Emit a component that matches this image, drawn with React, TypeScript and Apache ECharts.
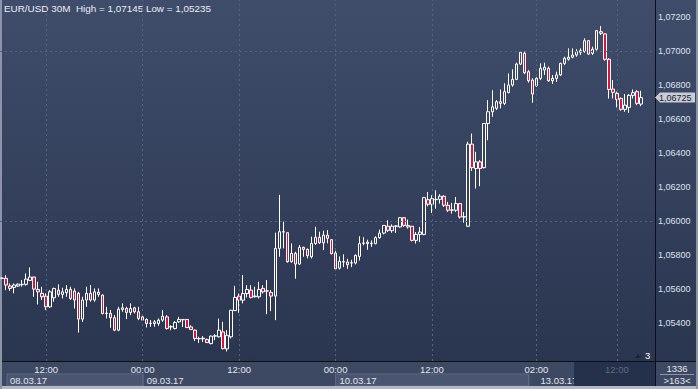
import React, { useEffect, useRef } from 'react';
import * as echarts from 'echarts';

// EUR/USD 30M candles (open, close, low, high)
const OPEN = [
  1.05664, 1.05664, 1.05619, 1.05611, 1.05619, 1.05627, 1.05629, 1.05652, 1.05672, 1.05599,
  1.05576, 1.05560, 1.05497, 1.05550, 1.05595, 1.05570, 1.05580, 1.05599, 1.05589, 1.05576,
  1.05425, 1.05537, 1.05576, 1.05537, 1.05583, 1.05566, 1.05458, 1.05458, 1.05433, 1.05360,
  1.05482, 1.05487, 1.05464, 1.05491, 1.05468, 1.05438, 1.05423, 1.05399, 1.05399, 1.05399,
  1.05419, 1.05438, 1.05379, 1.05370, 1.05409, 1.05423, 1.05423, 1.05379, 1.05360, 1.05311,
  1.05309, 1.05305, 1.05281, 1.05325, 1.05321, 1.05350, 1.05250, 1.05321, 1.05475, 1.05560,
  1.05536, 1.05575, 1.05595, 1.05556, 1.05556, 1.05605, 1.05591, 1.05581, 1.05560, 1.05840,
  1.05938, 1.05932, 1.05762, 1.05811, 1.05748, 1.05846, 1.05834, 1.05791, 1.05869, 1.05905,
  1.05873, 1.05918, 1.05891, 1.05813, 1.05724, 1.05760, 1.05760, 1.05754, 1.05754, 1.05793,
  1.05870, 1.05877, 1.05868, 1.05868, 1.05903, 1.05930, 1.05970, 1.05944, 1.05970, 1.05966,
  1.06020, 1.05966, 1.05970, 1.05887, 1.05922, 1.05922, 1.06126, 1.06099, 1.06126, 1.06128,
  1.06146, 1.06093, 1.06064, 1.06064, 1.06103, 1.06024, 1.05970, 1.06452, 1.06309, 1.06348,
  1.06314, 1.06573, 1.06642, 1.06662, 1.06691, 1.06691, 1.06755, 1.06799, 1.06832, 1.06922,
  1.06985, 1.06877, 1.06828, 1.06795, 1.06838, 1.06887, 1.06897, 1.06824, 1.06838, 1.06858,
  1.06926, 1.06950, 1.06962, 1.06975, 1.06991, 1.06995, 1.07059, 1.06985, 1.07009, 1.07112,
  1.07099, 1.06950, 1.06775, 1.06750, 1.06720, 1.06656, 1.06668, 1.06738, 1.06760, 1.06687,
];
const CLOSE = [
  1.05666, 1.05625, 1.05605, 1.05625, 1.05630, 1.05629, 1.05660, 1.05672, 1.05601, 1.05585,
  1.05556, 1.05497, 1.05585, 1.05605, 1.05570, 1.05585, 1.05599, 1.05546, 1.05537, 1.05425,
  1.05537, 1.05576, 1.05537, 1.05585, 1.05570, 1.05458, 1.05460, 1.05433, 1.05360, 1.05483,
  1.05491, 1.05464, 1.05487, 1.05468, 1.05429, 1.05419, 1.05399, 1.05401, 1.05409, 1.05419,
  1.05442, 1.05370, 1.05381, 1.05405, 1.05423, 1.05421, 1.05375, 1.05364, 1.05311, 1.05309,
  1.05313, 1.05287, 1.05325, 1.05327, 1.05360, 1.05252, 1.05330, 1.05477, 1.05552, 1.05536,
  1.05575, 1.05599, 1.05552, 1.05560, 1.05599, 1.05585, 1.05589, 1.05560, 1.05840, 1.05938,
  1.05936, 1.05762, 1.05811, 1.05748, 1.05846, 1.05834, 1.05797, 1.05869, 1.05905, 1.05873,
  1.05918, 1.05899, 1.05809, 1.05720, 1.05764, 1.05762, 1.05744, 1.05756, 1.05799, 1.05868,
  1.05872, 1.05868, 1.05870, 1.05903, 1.05930, 1.05975, 1.05946, 1.05970, 1.05972, 1.06020,
  1.05975, 1.05975, 1.05887, 1.05922, 1.05936, 1.06138, 1.06099, 1.06132, 1.06128, 1.06146,
  1.06093, 1.06064, 1.06066, 1.06103, 1.06024, 1.06026, 1.06452, 1.06314, 1.06348, 1.06309,
  1.06573, 1.06642, 1.06671, 1.06701, 1.06701, 1.06760, 1.06799, 1.06832, 1.06922, 1.06991,
  1.06871, 1.06824, 1.06746, 1.06838, 1.06897, 1.06903, 1.06824, 1.06838, 1.06858, 1.06926,
  1.06956, 1.06962, 1.06975, 1.06995, 1.07001, 1.07059, 1.06981, 1.07009, 1.07118, 1.07103,
  1.06950, 1.06773, 1.06756, 1.06714, 1.06656, 1.06681, 1.06738, 1.06754, 1.06691, 1.06725,
];
const LOW = [
  1.05660, 1.05595, 1.05591, 1.05576, 1.05615, 1.05615, 1.05621, 1.05648, 1.05556, 1.05511,
  1.05537, 1.05478, 1.05491, 1.05527, 1.05556, 1.05546, 1.05556, 1.05537, 1.05487, 1.05346,
  1.05409, 1.05497, 1.05527, 1.05527, 1.05556, 1.05452, 1.05429, 1.05374, 1.05354, 1.05354,
  1.05468, 1.05425, 1.05448, 1.05458, 1.05419, 1.05415, 1.05376, 1.05380, 1.05380, 1.05386,
  1.05409, 1.05364, 1.05360, 1.05364, 1.05403, 1.05379, 1.05375, 1.05360, 1.05297, 1.05285,
  1.05291, 1.05285, 1.05277, 1.05301, 1.05317, 1.05246, 1.05235, 1.05311, 1.05473, 1.05462,
  1.05517, 1.05552, 1.05546, 1.05552, 1.05546, 1.05575, 1.05454, 1.05472, 1.05419, 1.05791,
  1.05840, 1.05756, 1.05756, 1.05662, 1.05742, 1.05791, 1.05781, 1.05781, 1.05860, 1.05866,
  1.05830, 1.05869, 1.05805, 1.05714, 1.05716, 1.05730, 1.05720, 1.05730, 1.05746, 1.05769,
  1.05858, 1.05832, 1.05848, 1.05864, 1.05897, 1.05922, 1.05936, 1.05932, 1.05930, 1.05962,
  1.05966, 1.05956, 1.05881, 1.05868, 1.05877, 1.05917, 1.06087, 1.06048, 1.06073, 1.06103,
  1.06083, 1.06054, 1.06044, 1.06054, 1.06015, 1.05991, 1.05966, 1.06295, 1.06191, 1.06205,
  1.06309, 1.06475, 1.06612, 1.06652, 1.06662, 1.06681, 1.06750, 1.06789, 1.06828, 1.06916,
  1.06863, 1.06813, 1.06695, 1.06789, 1.06828, 1.06858, 1.06818, 1.06805, 1.06818, 1.06852,
  1.06916, 1.06942, 1.06956, 1.06965, 1.06975, 1.06989, 1.06975, 1.06975, 1.07001, 1.07093,
  1.06942, 1.06720, 1.06720, 1.06667, 1.06648, 1.06642, 1.06636, 1.06720, 1.06681, 1.06675,
];
const HIGH = [
  1.05668, 1.05683, 1.05634, 1.05634, 1.05634, 1.05654, 1.05693, 1.05728, 1.05674, 1.05644,
  1.05615, 1.05576, 1.05595, 1.05609, 1.05629, 1.05609, 1.05625, 1.05615, 1.05605, 1.05585,
  1.05556, 1.05615, 1.05625, 1.05605, 1.05605, 1.05570, 1.05497, 1.05478, 1.05448, 1.05497,
  1.05517, 1.05497, 1.05517, 1.05497, 1.05497, 1.05448, 1.05429, 1.05419, 1.05419, 1.05429,
  1.05478, 1.05448, 1.05389, 1.05413, 1.05438, 1.05425, 1.05425, 1.05389, 1.05364, 1.05321,
  1.05325, 1.05311, 1.05329, 1.05336, 1.05428, 1.05409, 1.05360, 1.05477, 1.05620, 1.05575,
  1.05683, 1.05624, 1.05624, 1.05615, 1.05644, 1.05624, 1.05654, 1.05595, 1.05932, 1.06154,
  1.05997, 1.05932, 1.05869, 1.05820, 1.05860, 1.05850, 1.05840, 1.05909, 1.05967, 1.05938,
  1.05944, 1.05948, 1.05895, 1.05838, 1.05793, 1.05805, 1.05779, 1.05773, 1.05805, 1.05911,
  1.05907, 1.05891, 1.05887, 1.05911, 1.05950, 1.05977, 1.06005, 1.05981, 1.05975, 1.06024,
  1.06024, 1.06009, 1.05972, 1.05936, 1.05966, 1.06142, 1.06171, 1.06152, 1.06181, 1.06158,
  1.06152, 1.06113, 1.06107, 1.06142, 1.06107, 1.06054, 1.06466, 1.06514, 1.06407, 1.06358,
  1.06573, 1.06710, 1.06769, 1.06711, 1.06773, 1.06809, 1.06867, 1.06891, 1.06930, 1.06999,
  1.06995, 1.06887, 1.06838, 1.06844, 1.06926, 1.06930, 1.06907, 1.06858, 1.06877, 1.06930,
  1.06965, 1.07014, 1.07014, 1.07009, 1.07014, 1.07073, 1.07063, 1.07024, 1.07122, 1.07145,
  1.07103, 1.06956, 1.06828, 1.06760, 1.06726, 1.06746, 1.06746, 1.06773, 1.06769, 1.06765,
];

const SLOT_COUNT = 163;
const Y_MIN = 1.05179;
const Y_MAX = 1.07298;
const Y_TICKS = [1.054, 1.056, 1.058, 1.06, 1.062, 1.064, 1.066, 1.068, 1.07, 1.072];
const TIME_TICKS = [11, 35, 59, 83, 107, 133, 153];
const TIME_LABELS = ['12:00', '00:00', '12:00', '00:00', '12:00', '02:00', '12:00'];
const GREY_TICK = 153;
const DAY_LABELS = ['08.03.17', '09.03.17', '10.03.17', '13.03.17'];
const TITLE = 'EUR/USD 30M  High = 1,07145 Low = 1,05235';
const LAST_PRICE = 1.06725;
const TOTAL_BARS = '1336';
const VISIBLE_BARS = '>163<';
const SHIFT_COUNT = '3';

const FONT = '"Liberation Sans", Arial, sans-serif';
const fmt = (v: number) => v.toFixed(5).replace('.', ',');

export default function App() {
  const ref = useRef<HTMLDivElement>(null);

  useEffect(() => {
    if (!ref.current) return;
    const chart = echarts.init(ref.current, null, { renderer: 'svg' });
    const categories = Array.from({ length: SLOT_COUNT }, (_, i) => String(i));
    const data = OPEN.map((o, i) => [o, CLOSE[i], LOW[i], HIGH[i]]);

    chart.setOption({
      animation: false,
      backgroundColor: 'transparent',
      grid: { left: 0, right: 43, top: 0, bottom: 28 },
      xAxis: {
        type: 'category',
        data: categories,
        boundaryGap: true,
        axisLine: { show: false },
        axisTick: { show: false },
        splitLine: { show: false },
        axisLabel: {
          interval: (idx: number) => TIME_TICKS.includes(idx),
          formatter: (_v: string, idx: number) => {
            const k = TIME_TICKS.indexOf(idx);
            if (k < 0) return '';
            return idx === GREY_TICK ? `{g|${TIME_LABELS[k]}}` : TIME_LABELS[k];
          },
          color: '#e2e6ee',
          fontSize: 9.5,
          fontFamily: FONT,
          margin: 3,
          rich: { g: { color: '#5e6a86', fontSize: 9.5, fontFamily: FONT } },
        },
      },
      yAxis: {
        type: 'value',
        position: 'right',
        min: Y_MIN,
        max: Y_MAX,
        splitNumber: 10,
        axisLine: { show: false },
        axisTick: { show: false },
        splitLine: { show: false },
        axisLabel: {
          formatter: (v: number) =>
            Y_TICKS.some((t) => Math.abs(t - v) < 1e-7) ? fmt(v) : '',
          showMinLabel: false,
          showMaxLabel: false,
          color: '#dde2eb',
          fontSize: 9,
          fontFamily: FONT,
          margin: 3,
        },
      },
      series: [
        {
          type: 'candlestick',
          data,
          barWidth: 3,
          itemStyle: {
            color: 'transparent',
            color0: '#dc143c',
            borderColor: '#ffffff',
            borderColor0: '#ffffff',
            borderWidth: 1,
          },
          markLine: {
            silent: true,
            symbol: 'none',
            label: { show: false },
            lineStyle: { type: [2, 3], color: '#566380', width: 1 },
            data: [
              ...TIME_TICKS.map((i) => ({ xAxis: String(i) })),
              ...Y_TICKS.map((v) => ({ yAxis: v })),
            ],
          },
        },
      ],
    });

    const priceY = chart.convertToPixel({ yAxisIndex: 0 }, LAST_PRICE) as number;
    const dayX = [0, 35, 83, 131].map(
      (i) => chart.convertToPixel({ xAxisIndex: 0 }, String(i)) as number
    );

    const rowBg = '#3d4963';
    const boxBg = '#4a5671';
    chart.setOption({
      graphic: [
        // bottom strip
        { type: 'rect', z: -5, shape: { x: 0, y: 361, width: 698, height: 28 }, style: { fill: rowBg } },
        { type: 'rect', z: -4, shape: { x: 7, y: 374, width: dayX[1] - 7, height: 12 }, style: { fill: boxBg, stroke: '#5d6883', lineWidth: 1 } },
        { type: 'rect', z: -4, shape: { x: dayX[2], y: 374, width: dayX[3] - dayX[2], height: 12 }, style: { fill: boxBg, stroke: '#5d6883', lineWidth: 1 } },
        { type: 'line', z: -4, shape: { x1: dayX[1] + 0.5, y1: 374, x2: dayX[1] + 0.5, y2: 386 }, style: { stroke: '#5d6883', lineWidth: 1 } },
        { type: 'line', z: -4, shape: { x1: dayX[3] + 0.5, y1: 374, x2: dayX[3] + 0.5, y2: 386 }, style: { stroke: '#5d6883', lineWidth: 1 } },
        { type: 'text', z: -3, x: 10, y: 380.5, style: { text: DAY_LABELS[0], fill: '#e2e6ee', font: `9.5px ${FONT}`, verticalAlign: 'middle' } },
        { type: 'text', z: -3, x: dayX[1] + 4, y: 380.5, style: { text: DAY_LABELS[1], fill: '#e2e6ee', font: `9.5px ${FONT}`, verticalAlign: 'middle' } },
        { type: 'text', z: -3, x: dayX[2] + 4, y: 380.5, style: { text: DAY_LABELS[2], fill: '#e2e6ee', font: `9.5px ${FONT}`, verticalAlign: 'middle' } },
        { type: 'text', z: -3, x: dayX[3] + 12, y: 380.5, style: { text: DAY_LABELS[3], fill: '#e2e6ee', font: `9.5px ${FONT}`, verticalAlign: 'middle' } },
        { type: 'rect', z: -2, shape: { x: 574, y: 362, width: 81, height: 24 }, style: { fill: '#25304a' } },
        // frame lines
        { type: 'line', shape: { x1: 0, y1: 361.5, x2: 698, y2: 361.5 }, style: { stroke: '#0b0f18', lineWidth: 1 } },
        { type: 'line', shape: { x1: 655.5, y1: 0, x2: 655.5, y2: 389 }, style: { stroke: '#0b0f18', lineWidth: 1 } },
        { type: 'rect', shape: { x: 0, y: 386, width: 698, height: 3 }, style: { fill: '#b3b8c2' } },
        { type: 'rect', shape: { x: 0, y: 0, width: 2, height: 389 }, style: { fill: '#8c95a8' } },
        { type: 'rect', shape: { x: 696, y: 0, width: 2, height: 389 }, style: { fill: '#8c95a8' } },
        // right bottom cell
        { type: 'text', x: 677, y: 368, style: { text: TOTAL_BARS, fill: '#e2e6ee', font: `9.5px ${FONT}`, align: 'center', verticalAlign: 'middle' } },
        { type: 'line', shape: { x1: 660, y1: 374.5, x2: 694, y2: 374.5 }, style: { stroke: '#8a93a7', lineWidth: 1 } },
        { type: 'text', x: 677, y: 380.5, style: { text: VISIBLE_BARS, fill: '#e2e6ee', font: `9.5px ${FONT}`, align: 'center', verticalAlign: 'middle' } },
        // shift marker
        { type: 'polygon', shape: { points: [[635, 358], [638, 354], [641, 358]] }, style: { fill: '#1d2333' } },
        { type: 'text', x: 645, y: 355, style: { text: SHIFT_COUNT, fill: '#ffffff', font: `9.5px ${FONT}`, verticalAlign: 'middle' } },
        // title
        { type: 'text', x: 4, y: 8, style: { text: TITLE, fill: '#eaeef4', font: `9.9px ${FONT}`, verticalAlign: 'middle' } },
        // last price marker
        {
          type: 'polygon',
          shape: { points: [[655, priceY], [660, priceY - 5], [695, priceY - 5], [695, priceY + 5], [660, priceY + 5]] },
          style: { fill: '#c8ccd5' },
        },
        { type: 'text', x: 659, y: priceY + 0.5, style: { text: fmt(LAST_PRICE), fill: '#1a2030', font: `9px ${FONT}`, verticalAlign: 'middle' } },
      ],
    });

    return () => chart.dispose();
  }, []);

  return (
    <div
      ref={ref}
      style={{
        position: 'fixed',
        left: 0,
        top: 0,
        width: 698,
        height: 389,
        background: 'linear-gradient(to bottom, #3f4d6b 0px, #2a354f 361px, #3d4963 361px)',
      }}
    />
  );
}
